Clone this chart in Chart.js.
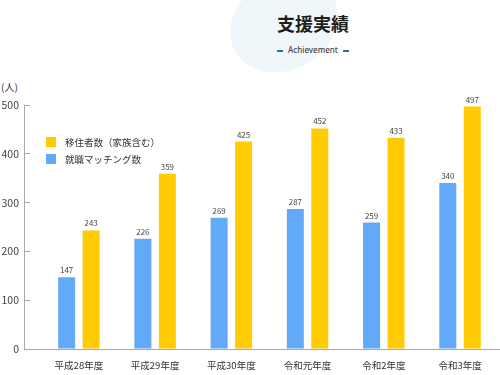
<!DOCTYPE html>
<html>
<head>
<meta charset="utf-8">
<script src="https://cdn.jsdelivr.net/npm/chart.js@4.4.0/dist/chart.umd.min.js"></script>
<style>
  body { margin: 0; background: #fff; }
  #wrap { position: relative; width: 500px; height: 375px; overflow: hidden; }
  #blob { position: absolute; left: 228px; top: -22px; width: 112px; height: 92px; border-radius: 50%;
          background: #f0f7fb; transform: rotate(-28deg); }
  #title { position: absolute; left: 213px; width: 200px; top: 10px; text-align: center;
           font: bold 18px "Noto Sans CJK JP", sans-serif; color: #1e1e1e; }
  #sub { position: absolute; left: 213px; width: 200px; top: 44px; text-align: center;
         font: 500 8px "Noto Sans", sans-serif; color: #444; }
  #sub span.d { display: inline-block; width: 6px; height: 2px; background: #2d6db5; vertical-align: middle; margin: 0 5px; }
  #unit { position: absolute; left: 1px; top: 79px; font: 10px "Noto Sans CJK JP", sans-serif; color: #333; }
  canvas { position: absolute; left: 0; top: 0; }
</style>
</head>
<body>
<div id="wrap">
  <div id="blob"></div>
  <div id="title">支援実績</div>
  <div id="sub"><span class="d"></span>Achievement<span class="d"></span></div>
  <div id="unit">(人)</div>
  <canvas id="chart" width="500" height="375"></canvas>
</div>
<script>
var years = ["平成28年度", "平成29年度", "平成30年度", "令和元年度", "令和2年度", "令和3年度"];
var matching = [147, 226, 269, 287, 259, 340];
var migrants = [243, 359, 425, 452, 433, 497];
var seriesNames = ["就職マッチング数", "移住者数（家族含む）"];
var colors = ["#62aaf7", "#ffcb05"];

function toPoints(values) {
    var out = [];
    for (var i = 0; i < values.length; ++i)
        out.push({ x: i, y: values[i] });
    return out;
}

var jpFont = '"Noto Sans CJK JP", "Noto Sans", sans-serif';

// numbers over bars
var valueLabels = {
    id: "valueLabels",
    afterDatasetsDraw: function (chart) {
        var ctx = chart.ctx;
        ctx.save();
        ctx.font = "8px " + jpFont;
        ctx.fillStyle = "#444";
        ctx.textAlign = "center";
        ctx.textBaseline = "bottom";
        chart.data.datasets.forEach(function (ds, di) {
            chart.getDatasetMeta(di).data.forEach(function (bar, i) {
                ctx.fillText(ds.data[i].y, bar.x, bar.y - 3);
            });
        });
        ctx.restore();
    }
};

// legend inside the plot, top-left, yellow first
var innerLegend = {
    id: "innerLegend",
    afterDraw: function (chart) {
        var ctx = chart.ctx;
        var area = chart.chartArea;
        var x = area.left + 22, y = area.top + 32;
        ctx.save();
        ctx.font = "9.5px " + jpFont;
        ctx.textBaseline = "middle";
        for (var k = chart.data.datasets.length - 1; k >= 0; --k) {
            var ds = chart.data.datasets[k];
            ctx.fillStyle = ds.backgroundColor;
            ctx.fillRect(x, y, 10, 10);
            ctx.fillStyle = "#333";
            ctx.fillText(ds.label, x + 19, y + 5);
            y += 17;
        }
        ctx.restore();
    }
};

new Chart(document.getElementById("chart"), {
    type: "bar",
    data: {
        datasets: [{
            label: seriesNames[0],
            backgroundColor: colors[0],
            data: toPoints(matching)
        }, {
            label: seriesNames[1],
            backgroundColor: colors[1],
            data: toPoints(migrants)
        }]
    },
    options: {
        responsive: false,
        animation: false,
        categoryPercentage: 0.642,
        barPercentage: 0.694,
        layout: { padding: { top: 105, left: 0, right: 0, bottom: 0 } },
        plugins: {
            legend: { display: false },
            tooltip: { enabled: false }
        },
        scales: {
            x: {
                type: "linear",
                offset: false,
                min: -0.72,
                max: 5.524,
                grid: { display: false, drawTicks: false },
                border: { color: "#a8a8a8", width: 1 },
                afterBuildTicks: function (scale) {
                    scale.ticks = years.map(function (y, i) { return { value: i }; });
                },
                afterFit: function (scale) { scale.height = 26; },
                ticks: {
                    autoSkip: false,
                    maxRotation: 0,
                    padding: 11,
                    color: "#333",
                    font: { family: jpFont, size: 9.5 },
                    callback: function (v) { return years[v]; }
                }
            },
            y: {
                min: 0,
                max: 500,
                grid: { drawOnChartArea: false, tickLength: -6, color: "#a8a8a8" },
                border: { color: "#a8a8a8", width: 1 },
                afterFit: function (scale) { scale.width = 24; },
                ticks: {
                    stepSize: 100,
                    padding: 11,
                    color: "#444",
                    font: { family: jpFont, size: 10.5 }
                }
            }
        }
    },
    plugins: [valueLabels, innerLegend]
});
</script>
</body>
</html>
